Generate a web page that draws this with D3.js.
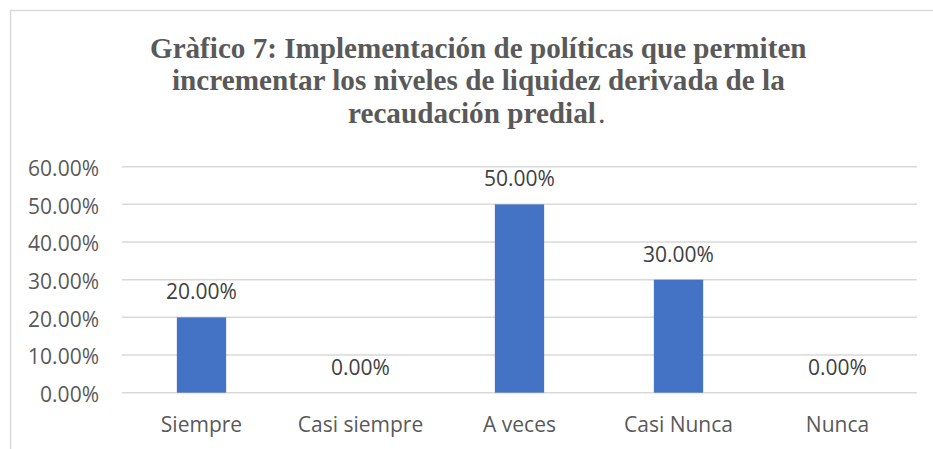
<!DOCTYPE html>
<html>
<head>
<meta charset="utf-8">
<script src="https://cdn.jsdelivr.net/npm/d3@7"></script>
<style>
  html, body { margin: 0; padding: 0; background: #fff; }
  svg { display: block; }
</style>
</head>
<body>
<svg id="svg" width="933" height="449"></svg>
<script>
// ----- Data -----
const categories = ["Siempre", "Casi siempre", "A veces", "Casi Nunca", "Nunca"];
const values = [0.20, 0.00, 0.50, 0.30, 0.00];
const yTicks = [0, 0.1, 0.2, 0.3, 0.4, 0.5, 0.6];
const titleLines = [
  "Gràfico 7: Implementación de políticas que permiten",
  "incrementar los niveles de liquidez derivada de la",
  "recaudación predial"
];

const svg = d3.select("#svg");
const W = 933, H = 449;
const axisFont = "'Open Sans', 'Noto Sans', sans-serif";
const textColor = "#595959";

// chart frame (top + left border only visible)
svg.append("path")
  .attr("d", `M10.5,${H} L10.5,10.5 L${W},10.5`)
  .attr("fill", "none")
  .attr("stroke", "#d9d9d9")
  .attr("stroke-width", 1.5);

// ----- Title -----
const titleG = svg.append("g")
  .attr("font-family", "'Liberation Serif', 'Times New Roman', serif")
  .attr("font-weight", "bold")
  .attr("font-size", 30)
  .attr("fill", textColor);

// [left x, width, baseline] per line; the serif title is horizontally condensed
const titleBoxes = [[150, 657, 58], [172, 613, 90], [348, 248, 123]];
titleLines.forEach((line, i) => {
  const [lx, w, by] = titleBoxes[i];
  const t = titleG.append("text").text(line);
  const natural = t.node().getComputedTextLength();
  t.attr("transform", `translate(${lx},${by}) scale(${w / natural},1)`);
});
// trailing period is not bold in the original
titleG.append("text")
  .attr("x", 348 + 248 + 2)
  .attr("y", 123)
  .attr("font-weight", "normal")
  .text(".");

// ----- Scales -----
const margin = { left: 122, right: 16, top: 166.7, bottom: 56.3 };
const x = d3.scaleBand()
  .domain(categories)
  .range([margin.left, W - margin.right])
  .paddingInner(0.69)
  .paddingOuter(0.345);

const y = d3.scaleLinear()
  .domain([0, 0.6])
  .range([H - margin.bottom, margin.top]);

const band = d3.scaleBand().domain(categories).range([margin.left, W - margin.right]);

// gridlines
svg.append("g")
  .selectAll("line")
  .data(yTicks)
  .join("line")
  .attr("x1", margin.left)
  .attr("x2", W - margin.right)
  .attr("y1", d => y(d))
  .attr("y2", d => y(d))
  .attr("stroke", "#d9d9d9")
  .attr("stroke-width", 1.5);

// y axis labels
const yAxis = d3.axisLeft(y)
  .tickValues(yTicks)
  .tickFormat(d => (d * 100).toFixed(2) + "%")
  .tickSize(0)
  .tickPadding(0);

const yG = svg.append("g")
  .attr("transform", `translate(99,2)`)
  .call(yAxis);
yG.select(".domain").remove();
yG.selectAll("text")
  .attr("font-family", axisFont)
  .attr("font-size", 21)
  .attr("fill", textColor);

// x axis labels
const xAxis = d3.axisBottom(band).tickSize(0).tickPadding(0);
const xG = svg.append("g")
  .attr("transform", `translate(0,${H - margin.bottom})`)
  .call(xAxis);
xG.select(".domain").remove();
xG.selectAll("text")
  .attr("dy", 0)
  .attr("y", 39.5)
  .attr("font-family", axisFont)
  .attr("font-size", 21)
  .attr("fill", textColor);

// ----- Bars -----
svg.append("g")
  .selectAll("rect")
  .data(values)
  .join("rect")
  .attr("x", (d, i) => x(categories[i]))
  .attr("width", x.bandwidth())
  .attr("y", d => y(d))
  .attr("height", d => y(0) - y(d))
  .attr("fill", "#4472c4");

// data labels
svg.append("g")
  .selectAll("text")
  .data(values)
  .join("text")
  .attr("x", (d, i) => band(categories[i]) + band.bandwidth() / 2)
  .attr("y", d => y(d) - 18)
  .attr("text-anchor", "middle")
  .attr("font-family", axisFont)
  .attr("font-size", 21)
  .attr("fill", "#404040")
  .text(d => (d * 100).toFixed(2) + "%");
</script>
</body>
</html>
